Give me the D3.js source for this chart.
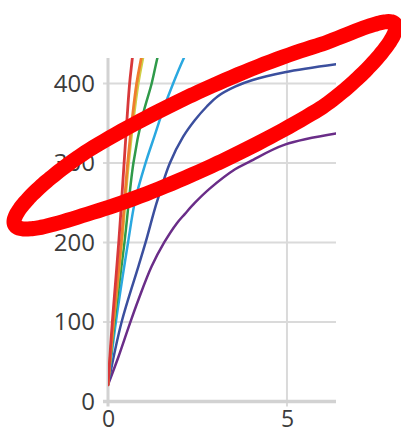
<!DOCTYPE html>
<html>
<head>
<meta charset="utf-8">
<script src="https://cdn.jsdelivr.net/npm/d3@7"></script>
<style>
  html, body { margin: 0; padding: 0; background: #fff; }
  svg { display: block; }
</style>
</head>
<body>
<svg id="chart" width="401" height="434"></svg>
<script>
// ---- data ----
const xTicks = [0, 5];
const yTicks = [0, 100, 200, 300, 400];
const seriesNames = ["red", "orange", "yellow", "green", "lightblue", "darkblue", "purple"];
const seriesColors = ["#d8383a", "#ef7d2e", "#cfcf45", "#2f9a4a", "#2aa8e0", "#3b4f9e", "#6a2d88"];
const seriesWidths = [2.8, 2.8, 2.4, 2.5, 2.5, 2.5, 2.5];

const redX = [0, 0.12, 0.3, 0.45, 0.6, 0.68, 0.76];
const redY = [21, 100, 200, 300, 398, 432, 470];
const orangeX = [0, 0.15, 0.37, 0.55, 0.8, 0.93, 1.05];
const orangeY = [21, 100, 200, 300, 400, 432, 460];
const yellowX = [0, 0.16, 0.39, 0.58, 0.85, 0.98, 1.1];
const yellowY = [21, 100, 200, 300, 400, 432, 460];
const greenX = [0, 0.18, 0.46, 0.71, 0.97, 1.22, 1.38, 1.55];
const greenY = [21, 100, 200, 300, 360, 400, 432, 460];
const lightblueX = [0, 0.22, 0.56, 0.76, 1.05, 1.3, 1.55, 1.82, 2.12, 2.4];
const lightblueY = [21, 100, 200, 253, 300, 334, 368, 400, 432, 458];
const darkblueX = [0, 0.38, 0.85, 1.05, 1.36, 1.73, 2.1, 2.43, 2.76, 3.07, 3.55, 4.02, 4.94, 6.37];
const darkblueY = [21, 100, 170, 200, 250, 300, 333, 354, 371, 384, 396, 404, 414, 424];
const purpleX = [0, 0.29, 0.61, 0.85, 1.22, 1.57, 1.92, 2.15, 2.43, 2.85, 3.55, 3.97, 4.94, 6.37];
const purpleY = [21, 56, 98, 128, 170, 200, 224, 236, 250, 268, 292, 302, 323, 337];

const seriesX = [redX, orangeX, yellowX, greenX, lightblueX, darkblueX, purpleX];
const seriesY = [redY, orangeY, yellowY, greenY, lightblueY, darkblueY, purpleY];

// hand-drawn red loop annotation (overlay, in pixels):
// centre, horizontal half-width, tilt of the midline, half-gap, lift of the right end, drop of the left end
const loopCenter = [205, 129];
const loopHalfWidth = 191;
const loopTilt = 0.455;
const loopHalfGap = 40;
const loopRightLift = 15;
const loopLeftDrop = 6;

// ---- layout ----
const svg = d3.select("#chart");
const L = 108, T = 58, R = 336, B = 401.5;
const x = d3.scaleLinear().domain([0, 6.37]).range([L, R]);
const y = d3.scaleLinear().domain([0, 432]).range([B, T]);

svg.append("defs").append("clipPath").attr("id", "plotclip")
  .append("rect").attr("x", L).attr("y", T).attr("width", R - L).attr("height", B - T);

// gridlines
svg.append("g").selectAll("line").data(yTicks.filter(d => d > 0)).join("line")
  .attr("x1", L - 5).attr("x2", R).attr("y1", d => y(d)).attr("y2", d => y(d))
  .attr("stroke", "#dadada").attr("stroke-width", 2);
svg.append("g").selectAll("line").data(xTicks.filter(d => d > 0)).join("line")
  .attr("x1", d => x(d)).attr("x2", d => x(d)).attr("y1", T).attr("y2", B + 5)
  .attr("stroke", "#dadada").attr("stroke-width", 2);

// axis lines
svg.append("line").attr("x1", x(0)).attr("x2", x(0)).attr("y1", T).attr("y2", B + 5)
  .attr("stroke", "#d2d2d2").attr("stroke-width", 3);
svg.append("line").attr("x1", L - 5).attr("x2", R).attr("y1", y(0)).attr("y2", y(0))
  .attr("stroke", "#d2d2d2").attr("stroke-width", 3.5);

// axis labels
const fontFam = "'Open Sans', 'DejaVu Sans', sans-serif";
const ya = svg.append("g").attr("transform", `translate(${L},0)`)
  .call(d3.axisLeft(y).tickValues(yTicks).tickSize(0).tickPadding(13));
ya.select(".domain").remove();
ya.selectAll("text").attr("font-family", fontFam).attr("font-size", 24).attr("fill", "#3c3c3c");

const xa = svg.append("g").attr("transform", `translate(0,${B})`)
  .call(d3.axisBottom(x).tickValues(xTicks).tickFormat(d3.format("d")).tickSize(0).tickPadding(9));
xa.select(".domain").remove();
xa.selectAll("text").attr("font-family", fontFam).attr("font-size", 23).attr("fill", "#3c3c3c");

// series lines
const line = d3.line().x(d => x(d[0])).y(d => y(d[1])).curve(d3.curveCatmullRom.alpha(0.5));
const g = svg.append("g").attr("clip-path", "url(#plotclip)");
for (let i = seriesNames.length - 1; i >= 0; i--) {
  const pts = seriesX[i].map((v, j) => [v, seriesY[i][j]]);
  g.append("path").datum(pts)
    .attr("d", line)
    .attr("fill", "none")
    .attr("stroke", seriesColors[i])
    .attr("stroke-width", seriesWidths[i])
    .attr("stroke-linecap", "round");
}

// annotation loop (a sheared ellipse, right end lifted and left end dropped a little)
const loopPts = d3.range(0, 2 * Math.PI, Math.PI / 90).map(t => {
  const c = Math.cos(t), s = Math.sin(t);
  const u = loopHalfWidth * c;
  const lift = c > 0.6 ? loopRightLift * Math.pow((c - 0.6) / 0.4, 1.5) : 0;
  const drop = c < -0.6 ? loopLeftDrop * Math.pow((-c - 0.6) / 0.4, 1.5) : 0;
  return [loopCenter[0] + u, loopCenter[1] - loopTilt * u + loopHalfGap * s - lift + drop];
});
svg.append("path").datum(loopPts)
  .attr("d", d3.line().curve(d3.curveCardinalClosed))
  .attr("fill", "none").attr("stroke", "#ff0000").attr("stroke-width", 15)
  .attr("stroke-linejoin", "round");
</script>
</body>
</html>
